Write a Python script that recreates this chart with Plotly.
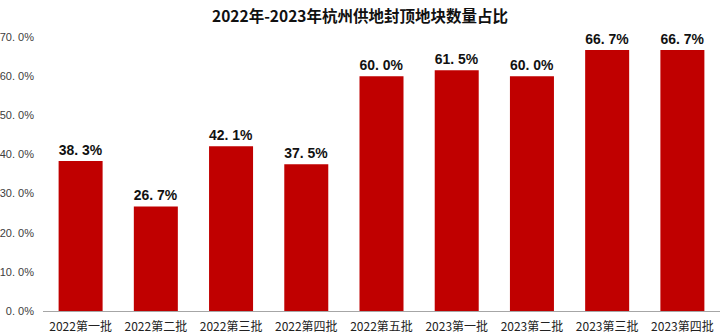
import plotly.graph_objects as go

# 杭州各批次供地封顶地块数量占比
categories = ["2022第一批", "2022第二批", "2022第三批", "2022第四批", "2022第五批",
              "2023第一批", "2023第二批", "2023第三批", "2023第四批"]
share_pct = [38.3, 26.7, 42.1, 37.5, 60.0, 61.5, 60.0, 66.7, 66.7]
tick_values = [0, 10, 20, 30, 40, 50, 60, 70]

def fmt(v):
    return f"{v:.1f}".replace(".", ". ") + "%"

font_cjk = "Noto Sans CJK SC, Noto Sans, sans-serif"

fig = go.Figure(
    go.Bar(
        x=categories,
        y=share_pct,
        marker=dict(color="#C00000", line=dict(width=0)),
        text=[fmt(v) for v in share_pct],
        textposition="outside",
        cliponaxis=False,
        textfont=dict(family="Liberation Sans, Arial, sans-serif", size=14, color="#111111", weight="bold"),
    )
)

fig.update_layout(
    width=720,
    height=336,
    margin=dict(l=43, r=0, t=37, b=25),
    paper_bgcolor="white",
    plot_bgcolor="white",
    bargap=0.415,
    showlegend=False,
    title=dict(
        text="<b>2022年-2023年杭州供地封顶地块数量占比</b>",
        x=0.5,
        xanchor="center",
        y=0.95,
        yanchor="middle",
        font=dict(family=font_cjk, size=15.5, color="#111111"),
    ),
    xaxis=dict(
        showline=True,
        linecolor="#A6A6A6",
        linewidth=1,
        ticks="",
        ticklabelstandoff=5,
        tickfont=dict(family=font_cjk, size=12, color="#222222"),
    ),
    yaxis=dict(
        range=[0, 70],
        tickvals=tick_values,
        ticktext=[fmt(v) for v in tick_values],
        showgrid=False,
        zeroline=False,
        showline=False,
        ticks="",
        ticklabelstandoff=8,
        tickfont=dict(family="Liberation Sans, Arial, sans-serif", size=11, color="#404040"),
    ),
)

fig.write_html("out.html")
